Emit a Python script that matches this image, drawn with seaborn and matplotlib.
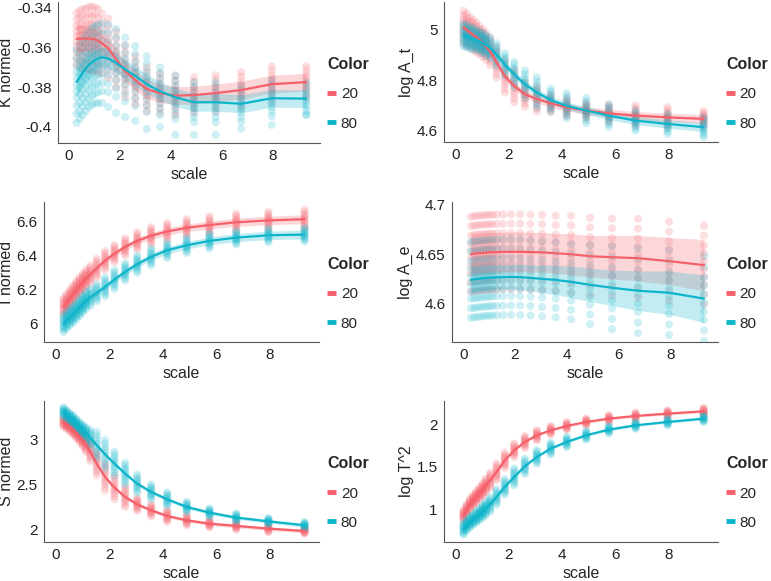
import numpy as np
import pandas as pd
import matplotlib

matplotlib.use("Agg")
import matplotlib.pyplot as plt
from matplotlib.lines import Line2D
from matplotlib.ticker import FuncFormatter
import seaborn as sns

sns.set_style("white")
plt.rcParams["font.family"] = ["Liberation Sans", "DejaVu Sans"]
plt.rcParams["axes.unicode_minus"] = False

# ── Data ──────────────────────────────────────────────
SCALE = [0.3, 0.42, 0.54, 0.66, 0.78, 0.9, 1.02, 1.14, 1.3, 1.54, 1.85,
         2.2, 2.6, 3.05, 3.57, 4.17, 4.9, 5.75, 6.75, 7.95, 9.3]
COLORS = ["20", "80"]
# relative position of the points inside each column
OFFSETS = [-1.0, -0.75, -0.5, -0.3, -0.1, 0.1, 0.3, 0.5, 0.75, 1.0]

# K normed
K_RED = [-0.3557, -0.3556, -0.3556, -0.3556, -0.3556, -0.3557, -0.3560, -0.3567, -0.3580, -0.3605, -0.3660,
         -0.3720, -0.3765, -0.3810, -0.3830, -0.3843, -0.3840, -0.3830, -0.3815, -0.3785, -0.3775]
K_BLUE = [-0.3774, -0.3752, -0.3727, -0.3706, -0.3689, -0.3674, -0.3664, -0.3656, -0.3650, -0.3656, -0.3678,
          -0.3711, -0.3744, -0.3785, -0.3821, -0.3851, -0.3876, -0.3876, -0.3884, -0.3856, -0.3858]
K_RED_SPREAD = [0.013, 0.014, 0.015, 0.015, 0.016, 0.016, 0.016, 0.016, 0.015, 0.015, 0.014,
                0.013, 0.012, 0.011, 0.010, 0.010, 0.009, 0.009, 0.009, 0.009, 0.008]
K_BLUE_SPREAD = [0.016, 0.017, 0.017, 0.017, 0.017, 0.017, 0.017, 0.017, 0.017, 0.017, 0.017,
                 0.016, 0.015, 0.014, 0.012, 0.011, 0.010, 0.010, 0.009, 0.009, 0.008]
K_BLUE_LOW = [-0.398, -0.396, -0.394, -0.392, -0.390, -0.389, -0.388, -0.388, -0.388, -0.390, -0.393,
              -0.395, -0.397, -0.401, -0.400, -0.404, -0.404, -0.404, -0.401, -0.399, -0.394]
K_BAND = [0.007, 0.007, 0.0065, 0.006, 0.006, 0.0055, 0.0055, 0.005, 0.005, 0.005, 0.005,
          0.005, 0.005, 0.0048, 0.0046, 0.0045, 0.0045, 0.0045, 0.0045, 0.0045, 0.0045]

# log A_t
AT_RED = [5.010, 5.000, 4.990, 4.980, 4.970, 4.960, 4.948, 4.935, 4.915, 4.870, 4.816,
          4.777, 4.744, 4.725, 4.708, 4.692, 4.679, 4.668, 4.659, 4.652, 4.646]
AT_BLUE = [4.980, 4.975, 4.970, 4.966, 4.961, 4.955, 4.948, 4.940, 4.928, 4.902, 4.862,
           4.823, 4.784, 4.751, 4.721, 4.698, 4.679, 4.659, 4.639, 4.626, 4.613]
AT_RED_SPREAD = [0.065, 0.065, 0.06, 0.06, 0.06, 0.055, 0.055, 0.055, 0.055, 0.06, 0.065,
                 0.065, 0.05, 0.05, 0.035, 0.035, 0.03, 0.035, 0.04, 0.04, 0.03]
AT_BLUE_SPREAD = [0.045, 0.045, 0.045, 0.042, 0.04, 0.04, 0.04, 0.04, 0.042, 0.045, 0.045,
                  0.05, 0.055, 0.06, 0.045, 0.05, 0.05, 0.045, 0.04, 0.04, 0.04]
AT_BAND = [0.012, 0.012, 0.012, 0.012, 0.012, 0.012, 0.012, 0.012, 0.013, 0.014, 0.015,
           0.015, 0.015, 0.015, 0.015, 0.015, 0.015, 0.016, 0.016, 0.017, 0.017]

# I normed
I_RED = [6.100, 6.125, 6.150, 6.175, 6.200, 6.222, 6.244, 6.265, 6.290, 6.325, 6.370,
         6.410, 6.450, 6.485, 6.515, 6.540, 6.562, 6.578, 6.594, 6.605, 6.612]
I_BLUE = [6.000, 6.020, 6.038, 6.055, 6.075, 6.095, 6.115, 6.135, 6.155, 6.180, 6.215,
          6.258, 6.303, 6.348, 6.391, 6.430, 6.459, 6.485, 6.504, 6.518, 6.522]
I_RED_SPREAD = [0.05, 0.05, 0.05, 0.05, 0.05, 0.05, 0.05, 0.05, 0.05, 0.055, 0.055,
                0.05, 0.05, 0.05, 0.05, 0.05, 0.05, 0.05, 0.05, 0.05, 0.055]
I_BLUE_SPREAD = [0.05, 0.05, 0.05, 0.05, 0.05, 0.05, 0.05, 0.05, 0.05, 0.05, 0.055,
                 0.055, 0.05, 0.05, 0.05, 0.045, 0.045, 0.045, 0.04, 0.04, 0.04]
I_BAND = [0.015, 0.015, 0.015, 0.015, 0.015, 0.015, 0.015, 0.016, 0.016, 0.017, 0.018,
          0.018, 0.019, 0.02, 0.02, 0.021, 0.022, 0.023, 0.024, 0.025, 0.026]

# log A_e
AE_RED = [4.6500, 4.6505, 4.6510, 4.6512, 4.6515, 4.6517, 4.6520, 4.6520, 4.6522, 4.6524, 4.6525,
          4.6525, 4.6522, 4.6520, 4.6510, 4.6500, 4.6480, 4.6470, 4.6460, 4.6430, 4.6390]
AE_BLUE = [4.6240, 4.6245, 4.6250, 4.6253, 4.6256, 4.6260, 4.6262, 4.6264, 4.6266, 4.6268, 4.6270,
           4.6268, 4.6260, 4.6250, 4.6240, 4.6220, 4.6190, 4.6160, 4.6130, 4.6110, 4.6050]
AE_RED_SPREAD = [0.038, 0.038, 0.038, 0.038, 0.038, 0.038, 0.038, 0.038, 0.038, 0.038, 0.038,
                 0.038, 0.038, 0.038, 0.038, 0.039, 0.039, 0.039, 0.04, 0.04, 0.04]
AE_BLUE_SPREAD = [0.0385, 0.0385, 0.0385, 0.0385, 0.0385, 0.0385, 0.0385, 0.0385, 0.0385, 0.0385, 0.0385,
                  0.0385, 0.038, 0.038, 0.038, 0.038, 0.04, 0.042, 0.043, 0.043, 0.043]
AE_RED_BAND = [0.020, 0.020, 0.020, 0.020, 0.020, 0.020, 0.020, 0.020, 0.020, 0.020, 0.020,
               0.020, 0.020, 0.020, 0.020, 0.021, 0.021, 0.022, 0.023, 0.024, 0.026]
AE_BLUE_BAND = [0.013, 0.013, 0.012, 0.012, 0.012, 0.012, 0.012, 0.012, 0.012, 0.012, 0.012,
                0.013, 0.013, 0.014, 0.015, 0.016, 0.017, 0.018, 0.020, 0.022, 0.024]

# S normed
S_RED = [3.190, 3.165, 3.137, 3.105, 3.070, 3.030, 2.990, 2.940, 2.860, 2.730, 2.583,
         2.465, 2.362, 2.280, 2.214, 2.151, 2.103, 2.066, 2.041, 2.011, 1.985]
S_BLUE = [3.303, 3.270, 3.240, 3.210, 3.170, 3.135, 3.100, 3.065, 3.015, 2.934, 2.834,
          2.731, 2.620, 2.509, 2.417, 2.336, 2.251, 2.188, 2.133, 2.092, 2.048]
S_RED_SPREAD = [0.05, 0.05, 0.055, 0.055, 0.06, 0.06, 0.07, 0.08, 0.10, 0.13, 0.15,
                0.13, 0.11, 0.07, 0.065, 0.065, 0.055, 0.04, 0.04, 0.04, 0.03]
S_BLUE_SPREAD = [0.05, 0.05, 0.05, 0.055, 0.055, 0.06, 0.06, 0.07, 0.09, 0.15, 0.16,
                 0.13, 0.12, 0.10, 0.08, 0.075, 0.055, 0.045, 0.045, 0.035, 0.035]
S_BAND = [0.02, 0.02, 0.02, 0.02, 0.02, 0.02, 0.02, 0.02, 0.02, 0.02, 0.02,
          0.02, 0.02, 0.02, 0.02, 0.02, 0.02, 0.02, 0.02, 0.02, 0.02]

# log T^2
T_RED = [0.930, 1.000, 1.060, 1.105, 1.146, 1.190, 1.232, 1.280, 1.342, 1.441, 1.579,
         1.697, 1.795, 1.874, 1.933, 1.984, 2.031, 2.071, 2.102, 2.130, 2.157]
T_BLUE = [0.770, 0.810, 0.850, 0.880, 0.909, 0.940, 0.976, 1.010, 1.059, 1.146, 1.264,
          1.382, 1.508, 1.618, 1.717, 1.795, 1.874, 1.941, 1.992, 2.031, 2.071]
T_RED_SPREAD = [0.06, 0.06, 0.065, 0.065, 0.07, 0.07, 0.075, 0.08, 0.09, 0.10, 0.09,
                0.08, 0.07, 0.06, 0.05, 0.045, 0.04, 0.04, 0.04, 0.04, 0.04]
T_BLUE_SPREAD = [0.07, 0.065, 0.065, 0.065, 0.07, 0.07, 0.075, 0.08, 0.085, 0.09, 0.09,
                 0.10, 0.09, 0.08, 0.07, 0.06, 0.05, 0.045, 0.04, 0.04, 0.04]
T_BAND = [0.015, 0.015, 0.015, 0.015, 0.015, 0.015, 0.015, 0.015, 0.015, 0.015, 0.015,
          0.015, 0.015, 0.015, 0.015, 0.015, 0.015, 0.015, 0.015, 0.015, 0.015]

RED = "#F5606A"
BLUE = "#0DB5CB"
PALETTE = {"20": RED, "80": BLUE}

# label, series, axes box in pixels (left, right, top, bottom), y range, y ticks, legend anchor
PANELS = [
    ("K normed", (K_RED, K_BLUE), (K_RED_SPREAD, K_BLUE_SPREAD), (K_BAND, K_BAND),
     (58, 320, 2, 143), (-0.4081, -0.3372), [-0.4, -0.38, -0.36, -0.34], (327, 94)),
    ("log A_t", (AT_RED, AT_BLUE), (AT_RED_SPREAD, AT_BLUE_SPREAD), (AT_BAND, AT_BAND),
     (444, 718, 2, 142), (4.554, 5.111), [4.6, 4.8, 5.0], (726, 94)),
    ("I normed", (I_RED, I_BLUE), (I_RED_SPREAD, I_BLUE_SPREAD), (I_BAND, I_BAND),
     (44, 319, 202, 342), (5.892, 6.713), [6.0, 6.2, 6.4, 6.6], (327, 294)),
    ("log A_e", (AE_RED, AE_BLUE), (AE_RED_SPREAD, AE_BLUE_SPREAD), (AE_RED_BAND, AE_BLUE_BAND),
     (452, 718, 202, 342), (4.561, 4.703), [4.6, 4.65, 4.7], (726, 294)),
    ("S normed", (S_RED, S_BLUE), (S_RED_SPREAD, S_BLUE_SPREAD), (S_BAND, S_BAND),
     (44, 319, 401, 542), (1.863, 3.424), [2.0, 2.5, 3.0], (327, 493)),
    ("log T^2", (T_RED, T_BLUE), (T_RED_SPREAD, T_BLUE_SPREAD), (T_BAND, T_BAND),
     (444, 718, 401, 542), (0.613, 2.279), [1.0, 1.5, 2.0], (726, 493)),
]

W, H = 771, 581
fig = plt.figure(figsize=(W / 100, H / 100), dpi=100)

for label, means, spreads, bands, box, ylim, yticks, leg_at in PANELS:
    l, r, t, b = box
    ax = fig.add_axes([l / W, 1 - b / H, (r - l) / W, (b - t) / H])

    # ── points: one column per scale value ──
    pts = []
    for color, mean, spread in zip(COLORS, means, spreads):
        for x, m, s in zip(SCALE, mean, spread):
            for o in OFFSETS:
                pts.append((x, m + o * s, color))
    if label == "K normed":
        for x, v in zip(SCALE, K_BLUE_LOW):
            pts.append((x, v, "80"))
    pts = pd.DataFrame(pts, columns=["scale", "value", "Color"])
    sns.scatterplot(data=pts, x="scale", y="value", hue="Color", palette=PALETTE,
                    alpha=0.2, s=34, linewidth=0, legend=False, ax=ax, zorder=1)

    # ── smooth line + band ──
    line = pd.DataFrame([(x, m, c) for c, mean in zip(COLORS, means) for x, m in zip(SCALE, mean)],
                        columns=["scale", "value", "Color"])
    for color, mean, band in zip(COLORS, means, bands):
        mean, band = np.array(mean), np.array(band)
        ax.fill_between(SCALE, mean - band, mean + band, color=PALETTE[color],
                        alpha=0.25, linewidth=0, zorder=2)
    sns.lineplot(data=line, x="scale", y="value", hue="Color", palette=PALETTE,
                 linewidth=1.6, legend=False, ax=ax, zorder=3)

    ax.set_xlim(-0.43, 9.84)
    ax.set_ylim(*ylim)
    ax.set_xticks([0, 2, 4, 6, 8])
    ax.set_yticks(yticks)
    ax.yaxis.set_major_formatter(FuncFormatter(lambda v, p: f"{v:g}"))
    ax.set_xlabel("scale", fontsize=11.5, labelpad=3)
    ax.set_ylabel(label, fontsize=11.5, labelpad=2)
    for side in ["top", "right"]:
        ax.spines[side].set_visible(False)
    for side in ["left", "bottom"]:
        ax.spines[side].set_color("#555555")
        ax.spines[side].set_linewidth(0.8)
    ax.tick_params(length=2.5, width=0.8, color="#555555", labelsize=11,
                   labelcolor="#222222", pad=2)

    handles = [Line2D([0], [0], color=PALETTE[c], lw=3.5, solid_capstyle="butt") for c in COLORS]
    leg = ax.legend(handles, COLORS, title="Color", loc="center left",
                    bbox_to_anchor=(leg_at[0] / W, 1 - leg_at[1] / H),
                    bbox_transform=fig.transFigure, frameon=False, fontsize=11,
                    title_fontproperties={"weight": "bold", "size": 11.5},
                    handlelength=0.6, handletextpad=0.3, labelspacing=1.0,
                    borderaxespad=0, borderpad=0)
    leg._legend_box.align = "left"

plt.savefig("out.png", dpi=100)
